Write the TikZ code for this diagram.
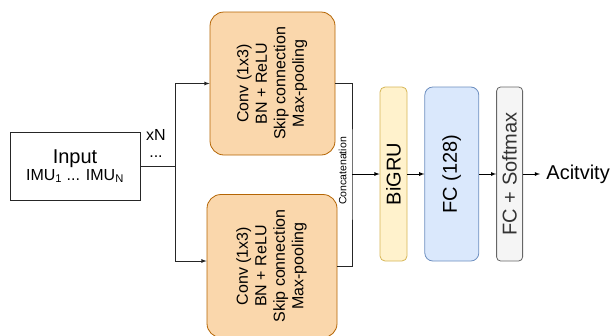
\documentclass[tikz,border=0pt]{standalone}
\usepackage{fontspec}
\usepackage{graphicx}
\setmainfont{Liberation Sans}
\usetikzlibrary{positioning,chains}
\definecolor{convfill}{HTML}{FAD7AC}
\definecolor{convline}{HTML}{B46504}
\definecolor{grufill}{HTML}{FFF2CC}
\definecolor{gruline}{HTML}{D6B656}
\definecolor{fcfill}{HTML}{DAE8FC}
\definecolor{fcline}{HTML}{6C8EBF}
\definecolor{outfill}{HTML}{F5F5F5}
\definecolor{outline}{HTML}{666666}
\definecolor{outtext}{HTML}{333333}
\newcommand{\convlayers}{%
  \rotatebox{90}{\begin{tabular}{@{}c@{}}
    Conv (1x3)\\BN + ReLU\\Skip connection\\Max-pooling
  \end{tabular}}}

\begin{document}
\begin{tikzpicture}[
  x=1pt,y=-1pt,
  >=latex,
  line width=0.8pt,
  inbox/.style={draw=black!85,fill=white,minimum width=130,minimum height=68,
    align=center,inner sep=0pt},
  convbox/.style={draw=convline,fill=convfill,rounded corners=14,
    minimum width=125,minimum height=143,font=\fontsize{16}{18.5}\selectfont},
  grubox/.style={draw=gruline,fill=grufill,rounded corners=5,
    minimum width=27,minimum height=174,inner sep=0pt,font=\fontsize{20}{22}\selectfont},
  fcbox/.style={draw=fcline,fill=fcfill,rounded corners=8,
    minimum width=54,minimum height=174,inner sep=0pt,font=\fontsize{20}{22}\selectfont},
  outbox/.style={draw=outline,fill=outfill,rounded corners=4,text=outtext,
    minimum width=26,minimum height=174,inner sep=0pt,font=\fontsize{20}{22}\selectfont},
  actlabel/.style={inner sep=0pt,inner xsep=6pt,font=\fontsize{20}{22}\selectfont},
  ]
  \path[use as bounding box,clip] (0,0) rectangle (612,335);
  % input and branches
  \node[inbox] (input) at (75,166)
    {{\fontsize{20}{22}\selectfont Input}\\[1pt]
     {\fontsize{16}{18}\selectfont IMU\textsubscript{1} ... IMU\textsubscript{N}}};
  \node[inner sep=0pt,align=center,font=\fontsize{16}{17}\selectfont] (times) at (156,143) {xN\\...};
  \coordinate (split) at (175,166);
  \node[convbox] (conv1) at (272.5,83.5) {\convlayers};
  \node[convbox,minimum width=130] (conv2) at (272,266) {\convlayers};
  \draw[black!85] (input.east) -- (split);
  \draw[->,black!85] (split) |- (conv1.west);
  \draw[->,black!85] (split) |- ([yshift=5pt]conv2.west);
  % concatenation
  \coordinate (cat) at (352,174);
  \draw[black!85] (conv1.east) -| (cat) |- (conv2.east);
  \node[inner sep=0pt,font=\fontsize{10.5}{12}\selectfont] (catlabel) at (342.5,171)
    {\rotatebox{90}{Concatenation}};
  % recurrent and dense part
  \begin{scope}[
    start chain=going right,
    node distance=17pt,
    every join/.style={->,black},
    ]
    \node[grubox,on chain] (bigru) at (393.5,174) {\rotatebox{90}{BiGRU}};
    \node[fcbox,on chain,join] (fc) {\rotatebox{90}{FC (128)}};
    \node[outbox,on chain,join] (softmax) {\rotatebox{90}{FC + Softmax}};
    \node[actlabel,on chain,join] (activity) {Acitvity};
  \end{scope}
  \draw[->] (cat) -- (bigru);
\end{tikzpicture}
\end{document}
